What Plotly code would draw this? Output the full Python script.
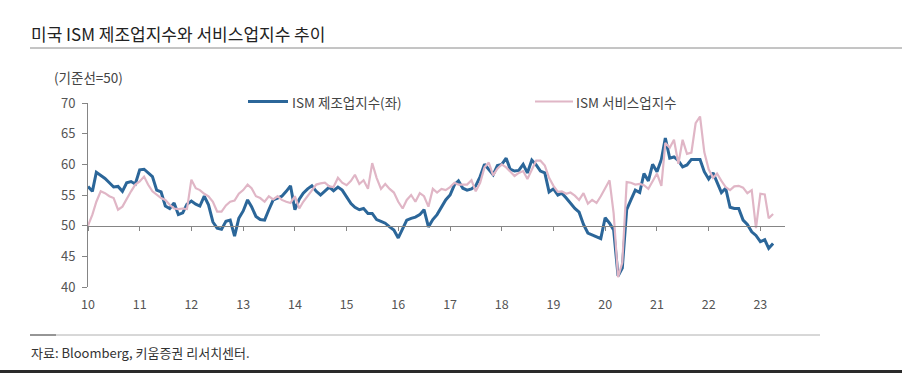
import plotly.graph_objects as go
import pandas as pd

# ---------------- data (monthly, Jan 2010 - Apr 2023) ----------------
mfg = [
    56.4, 55.6, 58.7, 58.2, 57.7, 57.0, 56.3, 56.4, 55.6, 57.0, 57.2, 56.8,   # 2010
    59.1, 59.2, 58.6, 58.0, 55.8, 55.5, 53.2, 52.8, 53.7, 51.8, 52.1, 53.5,   # 2011
    54.0, 53.5, 53.2, 54.8, 53.4, 50.6, 49.6, 49.4, 50.7, 50.9, 48.3, 51.2,   # 2012
    52.4, 54.2, 53.1, 51.5, 51.0, 50.9, 52.6, 54.2, 54.5, 54.8, 55.6, 56.5,   # 2013
    52.6, 54.3, 55.3, 56.0, 56.5, 55.6, 55.0, 55.6, 56.3, 55.7, 56.3, 55.8,   # 2014
    54.6, 53.6, 53.0, 52.6, 52.8, 52.0, 52.0, 51.0, 50.7, 50.4, 49.8, 49.3,   # 2015
    48.0, 49.5, 50.9, 51.2, 51.4, 51.8, 52.6, 49.8, 51.0, 51.8, 53.0, 54.2,   # 2016
    55.0, 56.7, 57.3, 56.1, 55.8, 56.0, 56.5, 58.0, 60.0, 59.1, 58.3, 59.8,   # 2017
    60.0, 61.0, 59.2, 58.9, 59.0, 60.0, 58.6, 60.7, 59.9, 58.9, 58.6, 55.5,   # 2018
    56.0, 55.0, 55.3, 54.5, 53.6, 52.8, 52.2, 50.2, 48.8, 48.5, 48.3, 47.9,   # 2019
    51.3, 50.4, 49.3, 41.8, 43.1, 52.6, 54.2, 55.8, 55.4, 58.5, 57.3, 60.0,   # 2020
    58.8, 60.8, 64.3, 61.0, 61.2, 60.6, 59.6, 59.9, 60.8, 60.8, 60.8, 58.8,   # 2021
    57.6, 58.6, 57.1, 55.4, 56.1, 53.0, 52.8, 52.8, 50.9, 50.2, 49.0, 48.4,   # 2022
    47.4, 47.7, 46.3, 47.1,                                                   # 2023
]

svc = [
    50.0, 51.8, 53.9, 55.6, 55.3, 54.8, 54.5, 52.6, 53.1, 54.4, 55.6, 56.7,   # 2010
    57.2, 58.0, 56.7, 55.6, 55.0, 54.5, 54.2, 53.4, 52.8, 52.7, 52.8, 52.7,   # 2011
    57.5, 56.1, 55.8, 55.2, 54.8, 53.9, 52.3, 52.3, 53.3, 53.9, 54.1, 55.2,   # 2012
    55.8, 56.7, 56.1, 54.8, 54.5, 53.9, 54.8, 54.3, 54.8, 54.2, 53.9, 53.7,   # 2013
    54.8, 52.8, 53.9, 54.8, 55.8, 56.7, 56.9, 57.0, 56.4, 56.3, 57.8, 57.0,   # 2014
    56.6, 57.3, 58.3, 56.8, 57.4, 56.0, 60.2, 57.8, 56.0, 56.8, 56.0, 55.4,   # 2015
    53.9, 52.8, 54.2, 55.0, 53.9, 55.3, 54.8, 53.1, 56.0, 55.4, 56.0, 55.8,   # 2016
    56.3, 57.0, 56.7, 56.7, 56.7, 57.4, 55.6, 57.0, 59.5, 60.3, 58.2, 59.3,   # 2017
    60.0, 59.5, 58.8, 58.1, 58.6, 58.9, 57.6, 59.0, 60.6, 60.6, 59.8, 57.8,   # 2018
    56.5, 55.5, 55.6, 55.2, 55.4, 54.9, 54.2, 55.3, 53.6, 54.2, 53.7, 54.8,   # 2019
    56.2, 57.4, 52.0, 41.6, 44.0, 57.1, 57.0, 56.7, 56.8, 56.6, 56.0, 57.2,   # 2020
    58.5, 56.5, 63.5, 62.7, 64.0, 60.1, 64.0, 61.7, 61.9, 66.7, 67.8, 62.0,   # 2021
    59.2, 57.8, 58.5, 57.3, 56.3, 55.8, 56.4, 56.5, 56.2, 55.3, 55.8, 49.6,   # 2022
    55.2, 55.1, 51.2, 51.9,                                                   # 2023
]

year_ticks = [f"{y}-01-01" for y in range(2010, 2024)]
year_labels = [f"{y % 100:02d}" for y in range(2010, 2024)]
y_ticks = [40, 45, 50, 55, 60, 65, 70]
baseline = 50

dates = pd.date_range("2010-01-01", periods=len(mfg), freq="MS")

# ---------------- styling ----------------
W, H = 902, 373
L, R, T, B = 88, 785, 103, 287  # plot area in pixels
BLUE = "#2b6699"
PINK = "#e0b6c6"
AXIS = "#858585"
TXT = "#555555"
FONT = "Noto Sans CJK KR"
X_RANGE = ["2010-01-01", "2023-06-24"]
Y_RANGE = [40, 70]


def px(x):
    return (x - L) / (R - L)


def py(y):
    return (B - y) / (B - T)


fig = go.Figure()
fig.add_trace(go.Scatter(x=dates, y=svc, mode="lines", name="ISM 서비스업지수",
                         line=dict(color=PINK, width=2.2), xaxis="x2", showlegend=False))
fig.add_trace(go.Scatter(x=dates, y=mfg, mode="lines", name="ISM 제조업지수(좌)",
                         line=dict(color=BLUE, width=3), showlegend=False))

shapes = [
    # title underline
    dict(type="line", xref="paper", yref="paper", x0=px(30), x1=px(902), y0=py(48), y1=py(48),
         line=dict(color="#8a8a8a", width=1)),
    # footer line
    dict(type="line", xref="paper", yref="paper", x0=px(30), x1=px(820), y0=py(335), y1=py(335),
         line=dict(color="#b0b0b0", width=1)),
    dict(type="line", xref="paper", yref="paper", x0=px(30), x1=px(56), y0=py(335), y1=py(335),
         line=dict(color="#555555", width=1)),
    # bottom dark band
    dict(type="rect", xref="paper", yref="paper", x0=px(0), x1=px(902), y0=py(373), y1=py(370),
         line=dict(width=0), fillcolor="#2a2a2a"),
    # legend samples
    dict(type="line", xref="paper", yref="paper", x0=px(248), x1=px(288), y0=py(101.5), y1=py(101.5),
         line=dict(color=BLUE, width=3)),
    dict(type="line", xref="paper", yref="paper", x0=px(535), x1=px(573), y0=py(101.5), y1=py(101.5),
         line=dict(color=PINK, width=2.2)),
]

annotations = [
    dict(text="미국 ISM 제조업지수와 서비스업지수 추이", xref="paper", yref="paper",
         x=px(29), y=py(33), xanchor="left", yanchor="middle", showarrow=False,
         font=dict(family=FONT, size=17, color="#222222")),
    dict(text="(기준선=50)", xref="paper", yref="paper",
         x=px(52), y=py(77), xanchor="left", yanchor="middle", showarrow=False,
         font=dict(family=FONT, size=13.5, color="#444444")),
    dict(text="ISM 제조업지수(좌)", xref="paper", yref="paper",
         x=px(290), y=py(101.5), xanchor="left", yanchor="middle", showarrow=False,
         font=dict(family=FONT, size=13.5, color="#444444")),
    dict(text="ISM 서비스업지수", xref="paper", yref="paper",
         x=px(574), y=py(101.5), xanchor="left", yanchor="middle", showarrow=False,
         font=dict(family=FONT, size=13.5, color="#444444")),
    dict(text="자료: Bloomberg, 키움증권 리서치센터.", xref="paper", yref="paper",
         x=px(29), y=py(352), xanchor="left", yanchor="middle", showarrow=False,
         font=dict(family=FONT, size=13, color="#333333")),
]

fig.update_layout(
    width=W, height=H,
    margin=dict(l=L, r=W - R, t=T, b=H - B, pad=0),
    paper_bgcolor="white", plot_bgcolor="white",
    font=dict(family=FONT, size=12, color=TXT),
    shapes=shapes, annotations=annotations,
    xaxis=dict(type="date", range=X_RANGE, tickvals=year_ticks, ticktext=year_labels,
               showline=False, showgrid=False, zeroline=False, ticks="",
               ticklabelstandoff=8, tickfont=dict(family=FONT, size=12.5, color=TXT)),
    xaxis2=dict(type="date", range=X_RANGE, overlaying="x", anchor="free",
                position=(baseline - Y_RANGE[0]) / (Y_RANGE[1] - Y_RANGE[0]), side="bottom",
                tickvals=year_ticks, showticklabels=False, showline=True, linecolor=AXIS,
                linewidth=1.3, ticks="outside", ticklen=4, tickcolor=AXIS, tickwidth=1,
                showgrid=False, zeroline=False),
    yaxis=dict(range=Y_RANGE, tickvals=y_ticks, showline=True, linecolor=AXIS, linewidth=1,
               ticks="outside", ticklen=5, tickcolor=AXIS, showgrid=False, zeroline=False,
               ticklabelstandoff=4, tickfont=dict(family=FONT, size=13, color=TXT)),
)

fig.write_html("out.html", config={"displayModeBar": False},
               post_script="document.body.style.margin='0';")
